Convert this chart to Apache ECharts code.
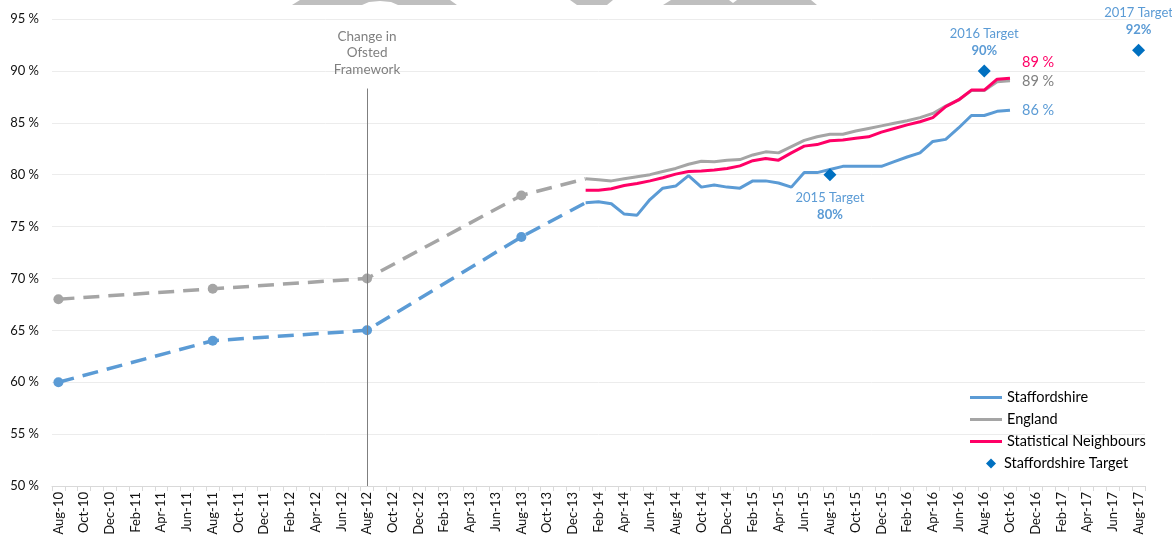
<!DOCTYPE html>
<html>
<head>
<meta charset="utf-8">
<title>Staffordshire</title>
<script src="https://cdn.jsdelivr.net/npm/echarts@6/dist/echarts.min.js"></script>
<style>
    html, body { margin: 0; padding: 0; background: #fff; }
    #container { width: 1172px; height: 537px; }
</style>
</head>
<body>
<div id="container"></div>
<script>
    // month labels Aug-10 .. Aug-17
    var monthNames = ['Jan','Feb','Mar','Apr','May','Jun','Jul','Aug','Sep','Oct','Nov','Dec'];
    var categories = [];
    for (var yr = 10; yr <= 17; yr++) {
        for (var m = 0; m < 12; m++) {
            if ((yr === 10 && m < 7) || (yr === 17 && m > 7)) continue;
            categories.push(monthNames[m] + '-' + yr);
        }
    }

    // yearly points before monthly data (dashed)
    var histMonths = ['Aug-10', 'Aug-11', 'Aug-12', 'Aug-13', 'Jan-14'];
    var staffsHist = [60, 64, 65, 74, 77.3];
    var englandHist = [68, 69, 70, 78, 79.6];

    // monthly values Jan-14 .. Oct-16
    var monthlyStart = 'Jan-14';
    var staffsMonthly = [77.3, 77.4, 77.2, 76.2, 76.1, 77.6, 78.7, 78.9, 79.9, 78.8,
        79.0, 78.8, 78.7, 79.4, 79.4, 79.2, 78.8, 80.2, 80.2, 80.5,
        80.8, 80.8, 80.8, 80.8, 81.25, 81.7, 82.1, 83.2, 83.4, 84.5,
        85.7, 85.7, 86.1, 86.2];
    var englandMonthly = [79.6, 79.5, 79.4, 79.6, 79.8, 80.0, 80.3, 80.6, 81.0, 81.3,
        81.25, 81.4, 81.45, 81.9, 82.2, 82.1, 82.7, 83.3, 83.65, 83.9,
        83.9, 84.2, 84.45, 84.7, 84.95, 85.2, 85.5, 85.9, 86.6, 87.2,
        88.1, 88.1, 88.95, 89.05];
    var snMonthly = [78.5, 78.5, 78.65, 78.95, 79.15, 79.4, 79.7, 80.05, 80.3, 80.35,
        80.45, 80.6, 80.85, 81.35, 81.55, 81.4, 82.1, 82.75, 82.9, 83.27,
        83.33, 83.5, 83.65, 84.1, 84.45, 84.8, 85.1, 85.5, 86.55, 87.2,
        88.15, 88.15, 89.2, 89.3];

    // targets
    var targetMonths = ['Aug-15', 'Aug-16', 'Aug-17'];
    var targetYears = ['2015', '2016', '2017'];
    var targetValues = [80, 90, 92];

    var yTicks = { min: 50, max: 95, interval: 5 };
    var frameworkMonth = 'Aug-12';

    var cBlue = '#5b9bd5', cGrey = '#a5a5a5', cPink = '#ff0066', cTarget = '#0070c0';
    var font = 'Lato, "Noto Sans", sans-serif';

    function monthly(values) {
        var start = categories.indexOf(monthlyStart);
        var out = [];
        for (var i = 0; i < start; i++) out.push(null);
        return out.concat(values);
    }
    function history(values) {
        var out = [];
        histMonths.forEach(function (mo, i) {
            var idx = categories.indexOf(mo);
            while (out.length < idx) out.push(null);
            // last point only joins the solid line, no marker
            out[idx] = i === histMonths.length - 1 ? { value: values[i], symbol: 'none' } : values[i];
        });
        return out;
    }
    function targets() {
        return targetMonths.map(function (mo, i) {
            var below = i === 0;
            return {
                value: [mo, targetValues[i]],
                label: {
                    show: true,
                    position: below ? 'bottom' : 'top',
                    distance: below ? 8 : 5,
                    formatter: '{a|' + targetYears[i] + ' Target}\n{b|' + targetValues[i] + '%}',
                    rich: {
                        a: { color: cBlue, fontSize: 13, fontFamily: font, lineHeight: 17 },
                        b: { color: cBlue, fontSize: 13, fontFamily: font, fontWeight: 'bold', lineHeight: 17 }
                    }
                }
            };
        });
    }
    function endLabel(color, dy) {
        return {
            show: true,
            distance: 12,
            offset: [0, dy],
            color: color,
            fontSize: 14.5,
            fontFamily: font,
            formatter: function (p) { return Math.round(+p.value) + ' %'; }
        };
    }

    var chart = echarts.init(document.getElementById('container'));
    var option = {
        animation: false,
        grid: { left: 52, right: 27, top: 19, bottom: 51, containLabel: false, outerBoundsMode: 'none' },
        graphic: [
            { type: 'polygon', silent: true, shape: { points: [[292,5],[300,0],[450,0],[457,5],[398,5],[391,2],[380,1],[369,2],[362,5]] }, style: { fill: '#bfbfbf' } },
            { type: 'polygon', silent: true, shape: { points: [[570,0],[613,0],[607,5],[577,5]] }, style: { fill: '#bfbfbf' } },
            { type: 'polygon', silent: true, shape: { points: [[663,5],[671,0],[729,0],[733,3],[737,0],[811,0],[817,5]] }, style: { fill: '#bfbfbf' } }
        ],
        legend: [
            {
                data: ['Staffordshire', 'England', 'Statistical Neighbours'],
                orient: 'vertical',
                left: 965,
                top: 385,
                icon: 'rect',
                itemWidth: 32,
                itemHeight: 3,
                itemGap: 7,
                selectedMode: false,
                textStyle: { color: '#000', fontSize: 14.5, fontFamily: font }
            },
            {
                data: ['Staffordshire Target'],
                orient: 'vertical',
                left: 981,
                top: 451,
                icon: 'diamond',
                itemWidth: 10,
                itemHeight: 10,
                selectedMode: false,
                itemStyle: { color: cTarget, opacity: 1 },
                textStyle: { color: '#000', fontSize: 14.5, fontFamily: font, padding: [0, 0, 0, 3] }
            }
        ],
        xAxis: {
            type: 'category',
            data: categories,
            boundaryGap: true,
            axisLine: { lineStyle: { color: '#d9d9d9' } },
            axisTick: { show: true, interval: 0, length: 5, lineStyle: { color: '#d9d9d9' } },
            axisLabel: { interval: 1, rotate: 90, color: '#111', fontSize: 13, fontFamily: font, margin: 6 },
            splitLine: { show: false }
        },
        yAxis: {
            type: 'value',
            min: yTicks.min,
            max: yTicks.max,
            interval: yTicks.interval,
            axisLine: { show: false },
            axisTick: { show: false },
            axisLabel: { formatter: '{value} %', color: '#111', fontSize: 13, fontFamily: font, margin: 13 },
            splitLine: { lineStyle: { color: '#ececec', width: 1 } }
        },
        series: [
            {
                name: 'England history',
                type: 'line',
                data: history(englandHist),
                connectNulls: true,
                symbol: 'circle',
                symbolSize: 10,
                itemStyle: { color: cGrey },
                lineStyle: { color: cGrey, width: 3.5, type: [16, 9] },
                z: 2,
                markLine: {
                    silent: true,
                    symbol: 'none',
                    lineStyle: { color: '#7f7f7f', width: 1, type: 'solid' },
                    label: {
                        show: true,
                        position: 'end',
                        distance: 11,
                        formatter: 'Change in\nOfsted\nFramework',
                        color: '#808080',
                        fontSize: 13.5,
                        lineHeight: 16.5,
                        fontFamily: font
                    },
                    data: [[{ coord: [categories.indexOf(frameworkMonth), yTicks.min] },
                            { coord: [categories.indexOf(frameworkMonth), 88.3] }]]
                }
            },
            {
                name: 'Staffordshire history',
                type: 'line',
                data: history(staffsHist),
                connectNulls: true,
                symbol: 'circle',
                symbolSize: 10,
                itemStyle: { color: cBlue },
                lineStyle: { color: cBlue, width: 3.5, type: [16, 9] },
                z: 2
            },
            {
                name: 'Staffordshire',
                type: 'line',
                data: monthly(staffsMonthly),
                symbol: 'none',
                itemStyle: { color: cBlue },
                lineStyle: { color: cBlue, width: 3 },
                endLabel: endLabel(cBlue, 0),
                z: 3
            },
            {
                name: 'England',
                type: 'line',
                data: monthly(englandMonthly),
                symbol: 'none',
                itemStyle: { color: cGrey },
                lineStyle: { color: cGrey, width: 3 },
                endLabel: endLabel('#7f7f7f', 1),
                z: 3
            },
            {
                name: 'Statistical Neighbours',
                type: 'line',
                data: monthly(snMonthly),
                symbol: 'none',
                itemStyle: { color: cPink },
                lineStyle: { color: cPink, width: 3 },
                endLabel: endLabel(cPink, -16),
                z: 4
            },
            {
                name: 'Staffordshire Target',
                type: 'scatter',
                data: targets(),
                symbol: 'diamond',
                symbolSize: 13,
                itemStyle: { color: cTarget, opacity: 1 },
                z: 5
            }
        ]
    };
    chart.setOption(option);
</script>
</body>
</html>
